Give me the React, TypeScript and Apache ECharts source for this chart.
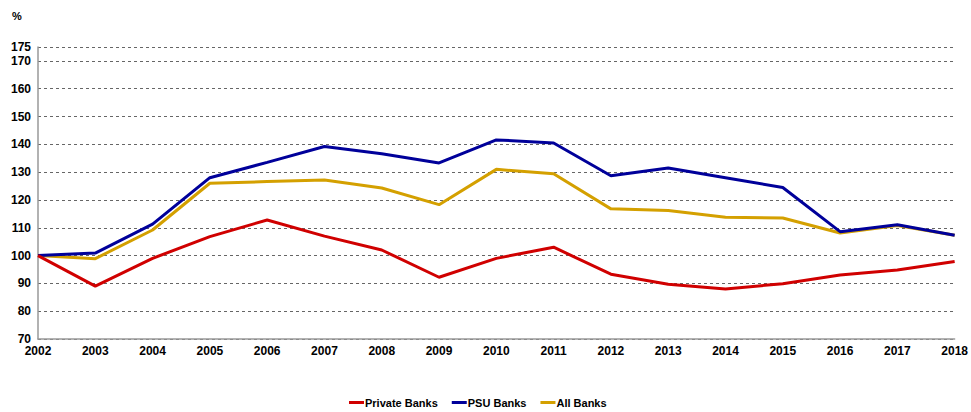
import React, { useEffect, useRef } from "react";
import * as echarts from "echarts";

const years = ["2002","2003","2004","2005","2006","2007","2008","2009","2010","2011","2012","2013","2014","2015","2016","2017","2018"];
const privateBanks = [100, 89, 99, 106.8, 112.8, 107, 102, 92.2, 99, 103, 93.3, 89.7, 88, 89.9, 93, 94.8, 97.9];
const psuBanks = [100, 100.9, 111.3, 128, 133.5, 139.2, 136.6, 133.3, 141.6, 140.5, 128.7, 131.5, 128, 124.5, 108.6, 111.1, 107.3];
const allBanks = [100, 98.9, 109.2, 126, 126.6, 127.2, 124.3, 118.3, 131, 129.4, 116.8, 116.2, 113.8, 113.5, 108.1, 110.8, 107.3];

const seriesNames = ["Private Banks", "PSU Banks", "All Banks"];
const seriesColors = ["#d00000", "#00009a", "#d4a000"];

export default function App() {
  const ref = useRef<HTMLDivElement>(null);
  useEffect(() => {
    if (!ref.current) return;
    const chart = echarts.init(ref.current, null, { renderer: "svg" });
    const font = "'Liberation Sans', Arial, sans-serif";
    const data = [privateBanks, psuBanks, allBanks];
    chart.setOption({
      animation: false,
      backgroundColor: "#ffffff",
      textStyle: { fontFamily: font },
      grid: { left: 38, right: 13, top: 47, bottom: 73, containLabel: false },
      graphic: [
        {
          type: "text",
          left: 12,
          top: 10,
          style: { text: "%", font: `bold 11px ${font}`, fill: "#000" },
        },
      ],
      legend: {
        bottom: -1,
        left: 344,
        itemWidth: 15,
        itemHeight: 3,
        itemGap: 14,
        icon: "rect",
        textStyle: { fontFamily: font, fontWeight: "bold", fontSize: 11, color: "#000", padding: [0, 0, 0, -4] },
        data: seriesNames,
      },
      xAxis: {
        type: "category",
        data: years,
        boundaryGap: false,
        axisLine: { show: true, lineStyle: { color: "#999", width: 1.5 } },
        axisTick: { show: false },
        axisLabel: { fontFamily: font, fontWeight: "bold", fontSize: 12, color: "#000", margin: 6 },
        splitLine: { show: false },
      },
      yAxis: {
        type: "value",
        min: 70,
        max: 175,
        interval: 10,
        axisLine: { show: true, lineStyle: { color: "#999", width: 1.5 } },
        axisTick: { show: false },
        axisLabel: { fontFamily: font, fontWeight: "bold", fontSize: 12, color: "#000", margin: 7 },
        splitLine: { show: true, lineStyle: { color: "#666", type: [3, 3], width: 1 } },
      },
      series: seriesNames.map((name, i) => ({
        name,
        type: "line",
        data: data[i],
        symbol: "none",
        color: seriesColors[i],
        lineStyle: { color: seriesColors[i], width: 3 },
        z: 3 - i,
      })),
    });
    return () => chart.dispose();
  }, []);
  return (
    <div
      ref={ref}
      style={{ position: "fixed", left: 0, top: 0, width: 971, height: 412 }}
    />
  );
}
